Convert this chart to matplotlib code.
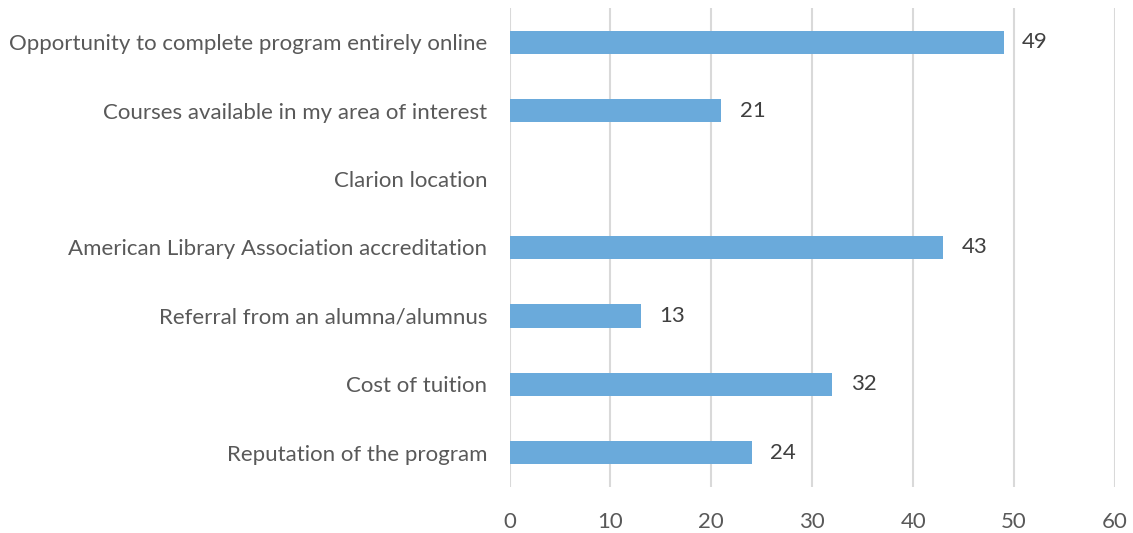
import matplotlib
matplotlib.use("Agg")
import matplotlib.pyplot as plt

categories = ["Reputation of the program", "Cost of tuition", "Referral from an alumna/alumnus",
              "American Library Association accreditation", "Clarion location",
              "Courses available in my area of interest",
              "Opportunity to complete program entirely online"]
values = [24, 32, 13, 43, 0, 21, 49]
xticks = [0, 10, 20, 30, 40, 50, 60]

plt.rcParams['font.family'] = ['Lato', 'DejaVu Sans']
fig = plt.figure(figsize=(11.33, 5.33), dpi=100)
ax = fig.add_axes([0.4497, 0.0863, 0.5344, 0.8987])
y = list(range(len(categories)))
ax.barh(y, values, height=0.34, color="#6aaadb", zorder=3)
for yi, v in zip(y, values):
    if v > 0:
        ax.text(v + 1.8, yi, str(v), va="center", ha="left", fontsize=16, color="#404040")
ax.set_xlim(0, 60)
ax.set_ylim(-0.5, len(categories) - 0.5)
ax.set_xticks(xticks)
ax.set_xticklabels([str(t) for t in xticks])
ax.set_yticks(y)
ax.set_yticklabels(categories)
ax.tick_params(axis="both", length=0, labelsize=16, labelcolor="#595959")
ax.tick_params(axis="x", pad=18)
ax.tick_params(axis="y", pad=16)
ax.grid(axis="x", color="#d9d9d9", linewidth=1.5, zorder=0)
for s in ax.spines.values():
    s.set_visible(False)
fig.savefig("out.png", dpi=100)
